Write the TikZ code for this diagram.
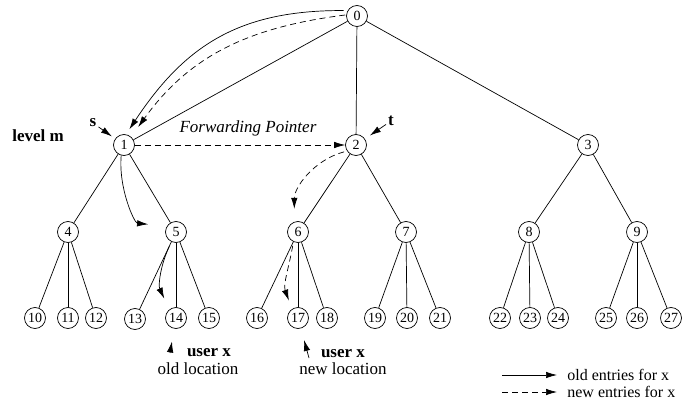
\documentclass[tikz,border=0pt]{standalone}
\usepackage{fontspec}
\setmainfont{Liberation Serif}
\usepackage{tikz}
\usetikzlibrary{arrows.meta}
\usetikzlibrary{positioning}
\tikzset{
  vertex/.style={circle, draw, minimum size=21pt, inner sep=0pt, font=\fontsize{14}{16}\selectfont},
  tag/.style={font=\fontsize{17}{20}\selectfont},
  key text/.style={font=\fontsize{16}{18}\selectfont, inner sep=0pt},
  old entry/.style={-{Latex[length=11pt,width=6.5pt]}},
  new entry/.style={-{Latex[length=11pt,width=6.5pt]}, dash pattern=on 6pt off 4pt},
}

\begin{document}
\begin{tikzpicture}[x=1pt, y=-1pt, line width=0.7pt]
  \useasboundingbox (0,0) rectangle (683,404);

  % Define nodes
  \node[vertex] (n0) at (357,16) {0};

  \node[vertex] (n1) at (124,145) {1};
  \node[vertex] (n2) at (356,145) {2};
  \node[vertex] (n3) at (588,145) {3};

  \node[vertex] (n4) at (68,232) {4};
  \node[vertex] (n5) at (176,232) {5};
  \node[vertex] (n6) at (298,232) {6};
  \node[vertex] (n7) at (406,232) {7};
  \node[vertex] (n8) at (529,232) {8};
  \node[vertex] (n9) at (637,232) {9};

  \node[vertex] (n10) at (35,318) {10};
  \node[vertex] (n11) at (68,318) {11};
  \node[vertex] (n12) at (96,318) {12};
  \node[vertex] (n13) at (135,319) {13};
  \node[vertex] (n14) at (176,318) {14};
  \node[vertex] (n15) at (209,318) {15};
  \node[vertex] (n16) at (257,318) {16};
  \node[vertex] (n17) at (298,318) {17};
  \node[vertex] (n18) at (327,318) {18};
  \node[vertex] (n19) at (375,318) {19};
  \node[vertex] (n20) at (407,318) {20};
  \node[vertex] (n21) at (440,318) {21};
  \node[vertex] (n22) at (500,318) {22};
  \node[vertex] (n23) at (530,318) {23};
  \node[vertex] (n24) at (558,318) {24};
  \node[vertex] (n25) at (606,318) {25};
  \node[vertex] (n26) at (637,318) {26};
  \node[vertex] (n27) at (671,318) {27};

  \node[tag] (level_m) at (38,136) {\textbf{level m}};
  \node[tag, inner sep=1pt] (lbl_s) at (93,123) {\textbf{s}};
  \node[tag, inner sep=1pt] (lbl_t) at (391,121) {\textbf{t}};
  \node[tag] (fwd) at (248,128) {\textit{Forwarding Pointer}};

  \node[tag, anchor=base] (user_old) at (209,356) {\textbf{user x}};
  \node[tag, anchor=base] (loc_old) at (198,374) {old location};
  \node[tag, anchor=base] (user_new) at (343,357) {\textbf{user x}};
  \node[tag, anchor=base] (loc_new) at (343,374) {new location};
  \coordinate (tail_old) at (170,353);
  \coordinate (tail_new) at (309,358);

  % Connect nodes
  \draw (n0) -- (n1);
  \draw (n0) -- (n2);
  \draw (n0) -- (n3);

  \draw (n1) -- (n4);
  \draw (n1) -- (n5);
  \draw (n2) -- (n6);
  \draw (n2) -- (n7);
  \draw (n3) -- (n8);
  \draw (n3) -- (n9);

  \draw (n4) -- (n10);
  \draw (n4) -- (n11);
  \draw (n4) -- (n12);
  \draw (n5) -- (n13);
  \draw (n5) -- (n14);
  \draw (n5) -- (n15);
  \draw (n6) -- (n16);
  \draw (n6) -- (n17);
  \draw (n6) -- (n18);
  \draw (n7) -- (n19);
  \draw (n7) -- (n20);
  \draw (n7) -- (n21);
  \draw (n8) -- (n22);
  \draw (n8) -- (n23);
  \draw (n8) -- (n24);
  \draw (n9) -- (n25);
  \draw (n9) -- (n26);
  \draw (n9) -- (n27);

  % Entries for x
  \draw[old entry, shorten <=4pt, shorten >=6pt] (n0.150) .. controls (240,10) and (185,45) .. (n1.79);
  \draw[new entry, shorten <=1pt, shorten >=12pt] (n0.174) .. controls (250,27) and (190,55) .. (n1.49);
  \draw[new entry] (n1) -- (n2);
  \draw[old entry, shorten >=19pt] (n1.255) to[out=-95, in=175] (n5.146);
  \draw[old entry, shorten <=5pt, shorten >=12pt] (n5.245) to[out=-115, in=115] (n14.128);
  \draw[new entry, shorten <=3pt, shorten >=13pt] (n2.214) to[out=195, in=90] (n6.110);
  \draw[new entry, shorten <=4pt, shorten >=9pt] (n6.245) to[out=-100, in=110] (n17.124);

  \draw[old entry, shorten <=1pt, shorten >=4pt] (lbl_s) -- (n1);
  \draw[old entry, shorten <=1pt, shorten >=6pt] (lbl_t) -- (n2);
  \draw[old entry, shorten >=13pt] (tail_old) -- (n14);
  \draw[old entry, shorten >=12pt] (tail_new) -- (n17);

  % Legend
  \coordinate (leg_old_a) at (502,375);
  \coordinate (leg_old_b) at (557,375);
  \coordinate (leg_new_a) at (502,392);
  \coordinate (leg_new_b) at (557,392);
  \draw[old entry] (leg_old_a) -- (leg_old_b);
  \draw[new entry] (leg_new_a) -- (leg_new_b);
  \node[key text, right=10pt of leg_old_b] (leg_old) {old entries for x};
  \node[key text, right=10pt of leg_new_b] (leg_new) {new entries for x};

\end{tikzpicture}
\end{document}
